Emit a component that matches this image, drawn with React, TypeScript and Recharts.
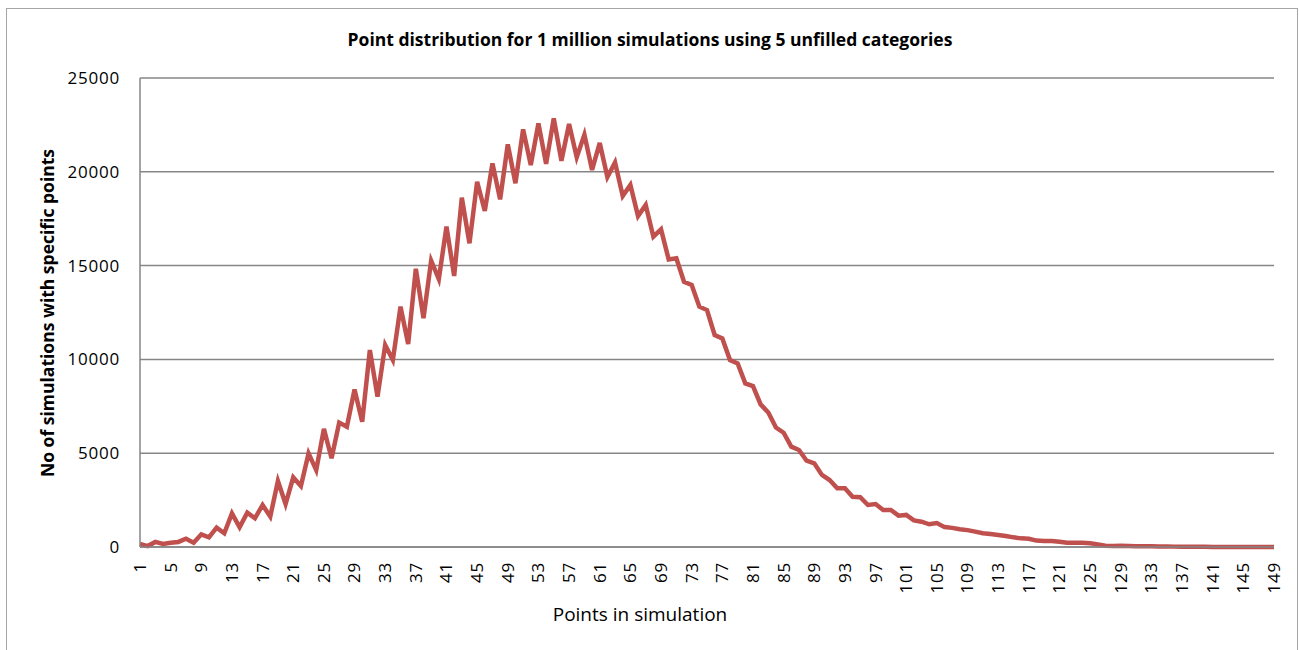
import { LineChart, Line, XAxis, YAxis, CartesianGrid } from 'recharts';

// points scored per simulation (x categories)
const points: number[] = Array.from({ length: 149 }, (_, i) => i + 1);

// number of simulations reaching each point total
const simulations: number[] = [
  160, 50, 270, 160, 230, 270, 440, 230, 675, 515,
  1030, 730, 1795, 1050, 1830, 1530, 2240, 1620, 3520, 2290,
  3710, 3250, 4990, 4100, 6300, 4730, 6630, 6410, 8400, 6680,
  10500, 8010, 10770, 9970, 12810, 10820, 14830, 12200, 15260, 14280,
  17080, 14450, 18620, 16190, 19470, 17910, 20450, 18530, 21460, 19390,
  22260, 20360, 22580, 20420, 22850, 20590, 22550, 20770, 21980, 20100,
  21540, 19720, 20500, 18710, 19300, 17640, 18230, 16540, 16930, 15330,
  15390, 14140, 13970, 12810, 12630, 11300, 11120, 9970, 9790, 8720,
  8580, 7600, 7170, 6370, 6090, 5350, 5170, 4600, 4460, 3840,
  3570, 3130, 3130, 2680, 2650, 2240, 2290, 1970, 1970, 1670,
  1710, 1420, 1350, 1210, 1280, 1060, 1020, 950, 900, 820,
  730, 690, 640, 590, 515, 460, 440, 340, 320, 320,
  280, 230, 230, 230, 195, 140, 70, 50, 60, 50,
  45, 40, 35, 30, 25, 20, 15, 12, 10, 8,
  6, 5, 4, 3, 2, 2, 1, 1, 0,
];

const yTicks = [0, 5000, 10000, 15000, 20000, 25000];

const data = points.map((p, i) => ({ point: p, count: simulations[i] }));

const FONT = '"Open Sans", sans-serif';
const GRID = '#868686';

const RotatedTick = (props: any) => {
  const { x, y, payload } = props;
  return (
    <text
      transform={`translate(${x},${y + 7}) rotate(-90)`}
      textAnchor="end"
      dy="0.35em"
      fontSize={17}
      letterSpacing={0.8}
      fontFamily={FONT}
      fill="#000"
    >
      {payload.value}
    </text>
  );
};

export default function App() {
  return (
    <div
      style={{
        position: 'absolute',
        left: 0,
        top: 0,
        width: 1299,
        height: 650,
        background: '#fff',
        fontFamily: FONT,
        overflow: 'hidden',
      }}
    >
      <div
        style={{
          position: 'absolute',
          left: 6,
          top: 8,
          width: 1290,
          height: 660,
          border: '1px solid #a6a6a6',
        }}
      />
      <div
        style={{
          position: 'absolute',
          left: 650,
          top: 39,
          transform: 'translate(-50%, -50%)',
          whiteSpace: 'nowrap',
          fontWeight: 'bold',
          fontSize: 17.5,
          color: '#000',
        }}
      >
        Point distribution for 1 million simulations using 5 unfilled categories
      </div>
      <div
        style={{
          position: 'absolute',
          left: 47,
          top: 313,
          transform: 'translate(-50%, -50%) rotate(-90deg)',
          whiteSpace: 'nowrap',
          fontWeight: 'bold',
          fontSize: 17.5,
          color: '#000',
        }}
      >
        No of simulations with specific points
      </div>
      <div
        style={{
          position: 'absolute',
          left: 640,
          top: 614,
          transform: 'translate(-50%, -50%)',
          whiteSpace: 'nowrap',
          fontSize: 19,
          color: '#000',
        }}
      >
        Points in simulation
      </div>
      <LineChart
        width={1299}
        height={650}
        data={data}
        margin={{ top: 78, right: 25, left: 0, bottom: 0 }}
        style={{ position: 'absolute', left: 0, top: 0 }}
      >
        <CartesianGrid vertical={false} stroke={GRID} strokeWidth={1.5} />
        <XAxis
          dataKey="point"
          height={103}
          interval={3}
          tickLine={false}
          stroke={GRID}
          strokeWidth={1.5}
          tick={<RotatedTick />}
        />
        <YAxis
          width={140}
          domain={[0, 25000]}
          ticks={yTicks}
          tickLine={false}
          tickMargin={14}
          stroke={GRID}
          strokeWidth={1.5}
          tick={{ fontSize: 17, fill: '#000', fontFamily: FONT, letterSpacing: 0.8 }}
        />
        <Line
          type="linear"
          dataKey="count"
          stroke="#C0504D"
          strokeWidth={4.5}
          dot={false}
          isAnimationActive={false}
        />
      </LineChart>
    </div>
  );
}
